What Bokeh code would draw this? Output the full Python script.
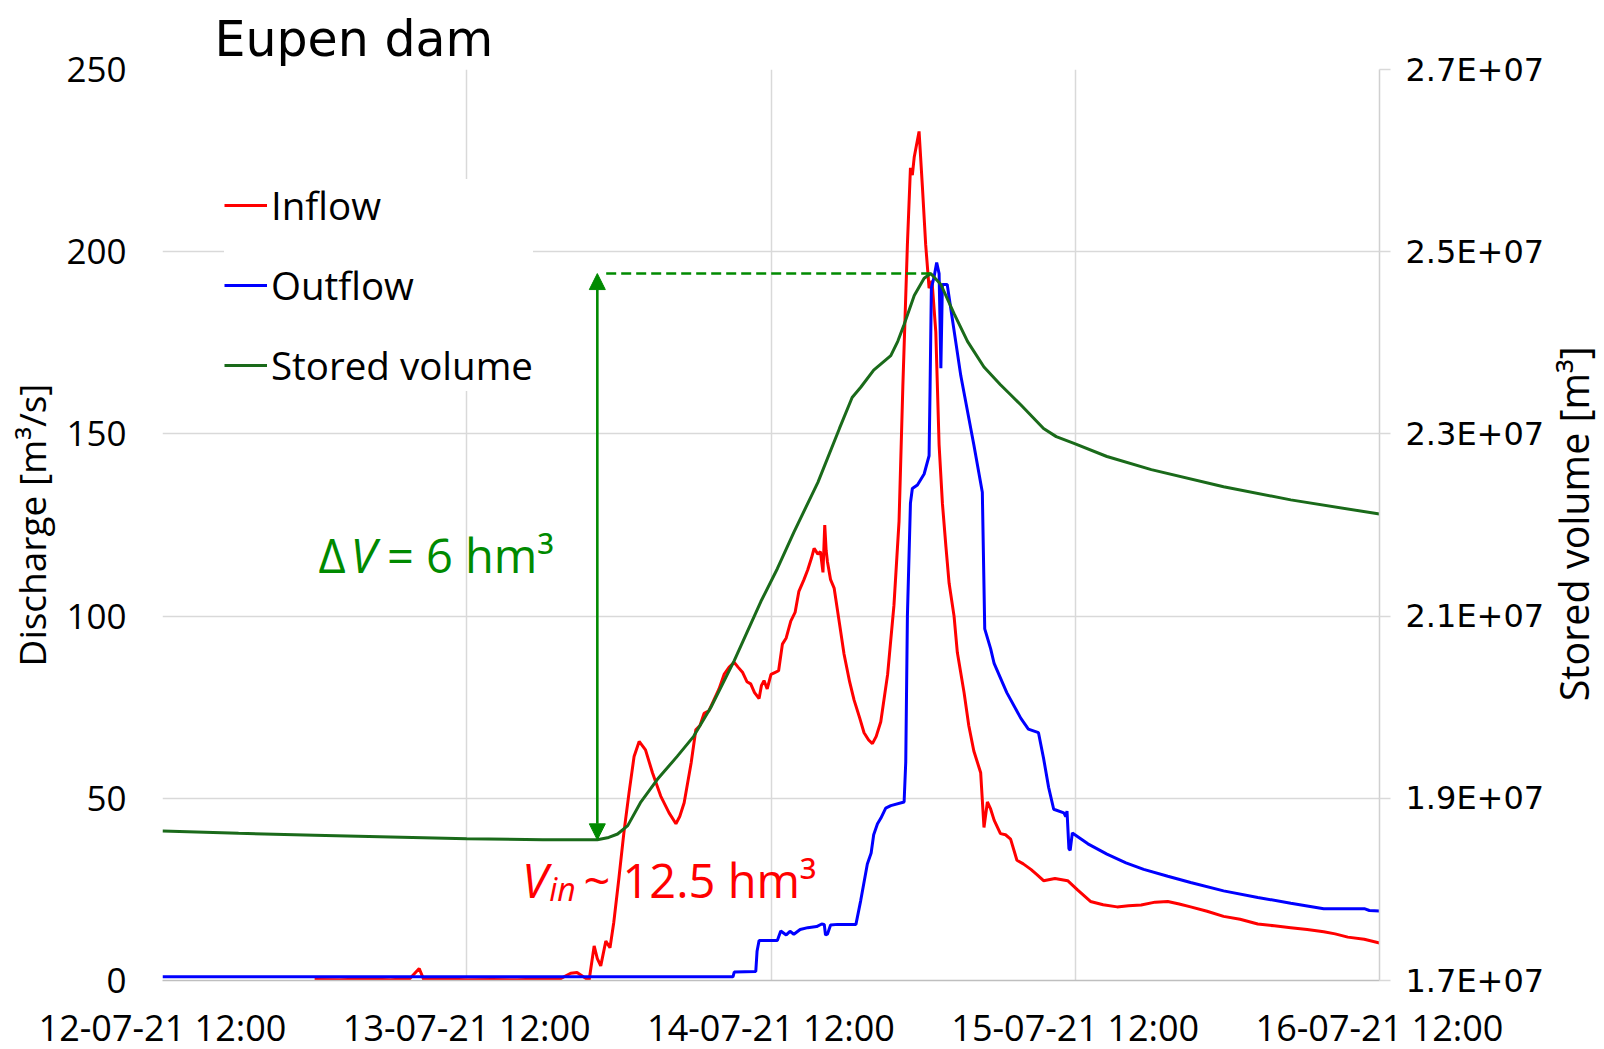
import numpy as np
import pandas as pd
from math import pi
from bokeh.plotting import figure
from bokeh.layouts import row
from bokeh.models import (Range1d, LinearAxis, FixedTicker, DatetimeTickFormatter, Title,
                          CustomJSTickFormatter, Legend, LegendItem, Label, Arrow, NormalHead)
from bokeh.embed import file_html
from bokeh.resources import INLINE

START = pd.Timestamp("2021-07-12 12:00")

# ---------------- data (hours since 12-07-21 12:00) ----------------
inflow_h = [12.0, 14, 16, 18, 19.5, 20.25, 20.6, 22, 24, 26, 28, 30, 31.4, 32.2, 32.7, 33.2, 33.65,
            34.05, 34.3, 34.57, 34.97, 35.3, 35.6, 36.0, 36.4, 36.8, 37.2, 37.6, 38.1, 38.65, 39.3,
            39.96, 40.5, 40.8, 41.15, 41.7, 42.07, 42.4, 42.72, 43.1, 43.5, 43.9, 44.3, 44.7, 45.1,
            45.4, 45.75, 46.1, 46.4, 46.7, 47.06, 47.25, 47.45, 47.7, 48.0, 48.3, 48.6, 48.9, 49.2,
            49.56, 49.9, 50.2, 50.6, 50.9, 51.2, 51.4, 51.7, 51.9, 52.1, 52.24, 52.35, 52.45, 52.7,
            52.98, 53.4, 53.76, 54.2, 54.55, 55.0, 55.34, 55.7, 56.0, 56.3, 56.66, 57.2, 57.7, 58.1,
            58.4, 58.76, 59.0, 59.15, 59.3, 59.68, 59.94, 60.2, 60.47, 60.7, 61.0, 61.26, 61.52, 61.8,
            62.05, 62.44, 62.7, 63.23, 63.6, 64.0, 64.54, 64.8, 65.07, 65.33, 65.6, 66.1, 66.5, 66.9,
            67.4, 67.9, 68.5, 69.0, 69.5, 70.4, 71.4, 72.2, 73.2, 74.2, 75.3, 76.2, 77.2, 78.3, 79.3,
            80.2, 81.1, 82.4, 83.7, 85.0, 86.4, 87.7, 89.0, 90.3, 91.6, 92.5, 93.5, 94.8, 96.0]
inflow_q = [0.3, 0.2, 0.4, 0.2, 0.5, 3.3, 0.3, 0.4, 0.2, 0.3, 0.2, 0.4, 0.5, 2.0, 2.2, 1.0, 0.0,
            9.5, 6, 4, 10.8, 9, 16, 28, 40.7, 51.5, 61.5, 65.6, 63.3, 57, 50.6,
            46, 43, 45, 48.8, 59.7, 68.8, 70, 73.3, 74, 77, 80, 84, 86, 87.3,
            86, 84.6, 82, 81.4, 79, 77.4, 81, 82.3, 80, 84, 84.5, 85, 92.3, 94,
            98.6, 101, 106.8, 110, 112.7, 116, 118.6, 117, 117.7, 112, 125, 118, 115, 110,
            107.7, 98, 89.6, 82, 77, 72, 68, 66, 65, 67, 71, 84, 103, 126,
            163, 202, 223, 221, 226, 233, 218, 202, 190, 192, 178, 147, 131, 119,
            109, 100, 90, 79, 70, 63, 57, 42, 49, 47, 44, 40.3, 40, 38.8,
            33, 32, 30.5, 29, 27.4, 28, 27.4, 24.8, 21.7, 20.8, 20.2, 20.5, 20.7, 21.5, 21.7,
            21, 20.2, 19, 17.6, 16.8, 15.5, 15.0, 14.5, 14, 13.4, 12.8, 11.9, 11.3, 10.3]

outflow_h = [0, 45.0, 45.1, 46.8, 46.9, 47.06, 48.5, 48.77, 49.2, 49.5, 49.8, 50.3, 50.9, 51.6, 52.0,
             52.2, 52.3, 52.45, 52.7, 53.24, 54.7, 55.08, 55.6, 55.9, 56.1, 56.4, 56.66, 57.05, 57.45,
             58.5, 58.63, 58.76, 59.0, 59.15, 59.55, 60.08, 60.47, 60.55, 60.65, 60.86, 61.07, 61.26,
             61.4, 61.52, 61.9, 62.97, 64.0, 64.67, 64.86, 65.33, 65.6, 66.6, 67.7, 68.3, 69.1, 69.5,
             69.9, 70.3, 71.1, 71.25, 71.35, 71.5, 71.6, 71.77, 73.0, 74.5, 76.0, 77.4, 79.3,
             81.1, 83.7, 86.4, 89.0, 91.6, 94.8, 95.2, 96.0]
outflow_q = [1.0, 1.0, 2.3, 2.5, 8, 11, 11, 13.6, 12.5, 13.5, 12.7, 14, 14.5, 14.8, 15.5,
             15.4, 12.5, 12.7, 15.2, 15.4, 15.4, 22, 32, 35, 40, 43, 44.5, 47.3, 48,
             49, 60, 100, 131, 135, 136, 139, 144, 163, 190, 193, 197, 194,
             168, 191, 191, 166, 147, 134, 96.5, 91, 87, 79, 72, 69, 68, 61,
             53, 47, 46, 45, 46.5, 36.2, 35.7, 40.5, 37.5, 34.7, 32.3, 30.5, 28.6,
             26.9, 24.6, 22.8, 21.2, 19.7, 19.7, 19.2, 19.1]

volume_h = [0, 6, 12, 18, 24, 30, 34.3, 35.2, 35.9, 36.7, 37.7, 39.04, 40.6, 41.9, 43.25, 45.1,
            47.2, 48.5, 49.8, 51.7, 53.4, 54.4, 55.08, 56.1, 57.45, 58.0, 58.5, 59.3, 60.08, 60.6,
            61.4, 62.44, 63.5, 64.8, 66.1, 66.9, 67.7, 69.5, 70.5, 71.9, 74.5, 78.0, 83.7, 89.0, 96.0]
volume_m3 = [1.864e7, 1.8615e7, 1.8595e7, 1.8575e7, 1.8555e7, 1.8545e7, 1.8544e7, 1.857e7,
             1.8608e7, 1.870e7, 1.8952e7, 1.9208e7, 1.946e7, 1.968e7, 1.9996e7, 2.0512e7,
             2.116e7, 2.152e7, 2.192e7, 2.2468e7, 2.306e7, 2.34e7, 2.3512e7, 2.37e7, 2.386e7,
             2.4016e7, 2.42e7, 2.452e7, 2.4708e7, 2.476e7, 2.464e7, 2.432e7, 2.4016e7, 2.3735e7,
             2.354e7, 2.343e7, 2.332e7, 2.306e7, 2.297e7, 2.2896e7, 2.2752e7, 2.2608e7, 2.242e7,
             2.2276e7, 2.212e7]

x_tick_hours = [0, 24, 48, 72, 96]
q_ticks = [0, 50, 100, 150, 200, 250]
vol_ticks = [1.7e7, 1.9e7, 2.1e7, 2.3e7, 2.5e7, 2.7e7]

ARROW_H = 34.3     # time of the delta-V arrow
DASH_START_H = 35.0

RED = "#ff0000"
BLUE = "#0000ff"
DKGREEN = "#1a6a1a"
GREEN = "#008a00"
GRID = "#d9d9d9"

H = 1049
SIDE_W = 58


def dt(hours):
    return (START + pd.to_timedelta(np.asarray(hours, dtype=float), unit="h")).values


def ms(h):
    return (START + pd.Timedelta(hours=h)).value / 1e6


p = figure(x_axis_type="datetime", frame_width=1217, frame_height=911,
           min_border_left=162, min_border_right=167, min_border_top=69, min_border_bottom=69,
           x_range=Range1d(ms(0), ms(96)), y_range=Range1d(0, 250),
           output_backend="svg", toolbar_location=None)
p.title = Title(text="Eupen dam", align="left", offset=52, standoff=0, vertical_align="top",
                text_font="DejaVu Sans", text_font_size="49px", text_font_style="normal",
                text_color="#000000")
p.extra_y_ranges = {"vol": Range1d(1.7e7, 2.7e7)}
p.outline_line_color = None
p.background_fill_color = "white"
p.border_fill_color = "white"

xt = FixedTicker(ticks=[ms(h) for h in x_tick_hours])
yt = FixedTicker(ticks=q_ticks)
fmt = "%d-%m-%y %H:%M"
p.xaxis.ticker = xt
p.xaxis.formatter = DatetimeTickFormatter(milliseconds=fmt, seconds=fmt, minsec=fmt, minutes=fmt,
                                          hourmin=fmt, hours=fmt, days=fmt, months=fmt, years=fmt)
p.yaxis.ticker = yt
p.xgrid.ticker = xt
p.ygrid.ticker = yt
for g in (p.xgrid, p.ygrid):
    g.grid_line_color = GRID
    g.grid_line_width = 1.5

xa = p.xaxis[0]
xa.axis_line_color = "#bfbfbf"
xa.axis_line_width = 1.5
xa.major_tick_line_color = None
xa.minor_tick_line_color = None
xa.major_label_text_font = "Open Sans"
xa.major_label_text_font_size = "36px"
xa.major_label_text_color = "#000000"
xa.major_label_standoff = 16

ya = p.yaxis[0]
ya.axis_line_color = None
ya.major_tick_line_color = None
ya.minor_tick_line_color = None
ya.major_label_text_font = "Open Sans"
ya.major_label_text_font_size = "35px"
ya.major_label_text_color = "#000000"
ya.major_label_standoff = 30
ya.axis_label = "Discharge [m³/s]"
ya.axis_label_text_font = "Open Sans"
ya.axis_label_text_font_size = "37px"
ya.axis_label_text_font_style = "normal"
ya.axis_label_text_color = "#000000"
ya.axis_label_standoff = 6

ra = LinearAxis(y_range_name="vol", ticker=FixedTicker(ticks=vol_ticks),
                formatter=CustomJSTickFormatter(code="return (tick/1e7).toFixed(1) + 'E+07';"))
ra.axis_line_color = "#d0d0d0"
ra.axis_line_width = 1.5
ra.major_tick_line_color = GRID
ra.major_tick_line_width = 1.5
ra.major_tick_out = 11
ra.major_tick_in = 0
ra.minor_tick_line_color = None
ra.major_label_text_font = "DejaVu Sans"
ra.major_label_text_font_size = "32px"
ra.major_label_text_color = "#000000"
ra.major_label_standoff = 15
p.add_layout(ra, "right")

r_in = p.line(dt(inflow_h), inflow_q, line_color=RED, line_width=3)
r_out = p.line(dt(outflow_h), outflow_q, line_color=BLUE, line_width=3)
r_vol = p.line(dt(volume_h), volume_m3, line_color=DKGREEN, line_width=3, y_range_name="vol")

# delta-V annotation derived from the stored-volume series
vmax = max(volume_m3)
vmin = min(volume_m3)
h_peak = volume_h[volume_m3.index(vmax)]
p.line([ms(DASH_START_H), ms(h_peak)], [vmax, vmax], line_color=GREEN, line_width=2.4,
       line_dash="10 5", y_range_name="vol")
p.add_layout(Arrow(x_start=ms(ARROW_H), y_start=vmin, x_end=ms(ARROW_H), y_end=vmax,
                   start=NormalHead(size=16, fill_color=GREEN, line_color=GREEN),
                   end=NormalHead(size=16, fill_color=GREEN, line_color=GREEN),
                   line_color=GREEN, line_width=2.6, y_range_name="vol"))


def lab(x, y, text, color, size, style="normal"):
    p.add_layout(Label(x=x, y=y, text=text, text_color=color, text_font="Open Sans",
                       text_font_size=size, text_font_style=style, text_baseline="alphabetic",
                       text_align="left"))


lab(ms(12.30), 116.9, "Δ", GREEN, "47px")
lab(ms(14.83), 116.9, "V", GREEN, "47px", "italic")
lab(ms(17.70), 116.9, "= 6 hm³", GREEN, "47px")
lab(ms(28.35), 27.6, "V", RED, "47px", "italic")
lab(ms(30.5), 25.2, "in", RED, "32px", "italic")
lab(ms(33.2), 27.6, "~ 12.5 hm³", RED, "47px")

legend = Legend(items=[LegendItem(label="Inflow", renderers=[r_in]),
                       LegendItem(label="Outflow", renderers=[r_out]),
                       LegendItem(label="Stored volume", renderers=[r_vol])],
                location=(62, 589), glyph_width=43, glyph_height=50, label_height=50,
                label_standoff=4, spacing=28, padding=14, margin=0,
                border_line_color=None, background_fill_color="white", background_fill_alpha=1.0,
                label_text_font="Open Sans", label_text_font_size="38.5px", label_text_color="#000000")
p.add_layout(legend)

# narrow side panel carrying the secondary-axis title (reads bottom to top)
side = figure(width=SIDE_W, height=H, min_border=0, x_range=Range1d(0, 1), y_range=Range1d(0, H),
              x_axis_location=None, y_axis_location=None, output_backend="svg",
              toolbar_location=None)
side.grid.visible = False
side.outline_line_color = None
side.background_fill_color = "white"
side.border_fill_color = "white"
side.add_layout(Label(x=0.45, y=H - 526, text="Stored volume [m³]", angle=pi / 2,
                      text_align="center", text_baseline="middle", text_color="#000000",
                      text_font="Open Sans", text_font_size="39.5px"))

open("out.html", "w").write(file_html(row(p, side), INLINE))
